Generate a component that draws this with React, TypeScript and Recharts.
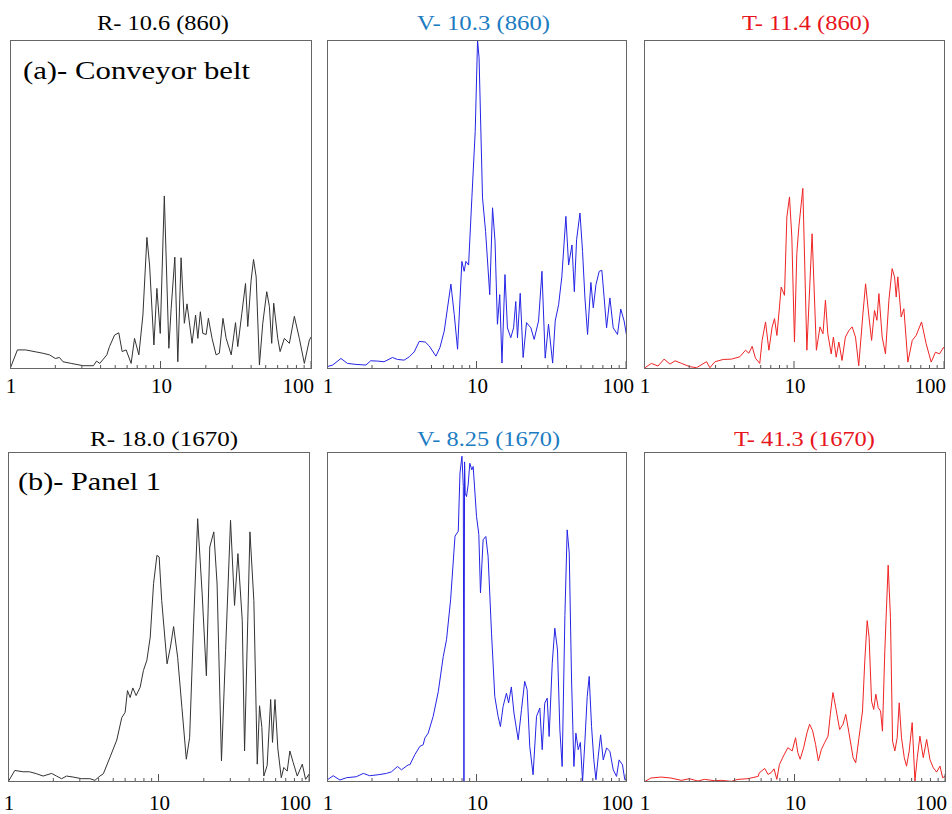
import React from 'react';
import { LineChart, Line, XAxis, YAxis } from 'recharts';

const SERIF = "'Liberation Serif', 'Times New Roman', Times, serif";

// log axis: minor ticks every unit, labels only on decades
const X_TICKS = [1, 2, 3, 4, 5, 6, 7, 8, 9, 10, 20, 30, 40, 50, 60, 70, 80, 90, 100];
const X_LABELS = [1, 10, 100];
const X_DOMAIN = [1, 101.5];

type Pt = [number, number];

// (a) conveyor belt -- relative amplitude (0-100) vs frequency
const convR: Pt[] = [
  [1, 0], [1.12, 5.8], [1.27, 5.8], [1.65, 4.8], [1.83, 4.3], [2.0, 3.2], [2.13, 3.5], [2.25, 2.2],
  [2.55, 1.7], [3.06, 1.0], [3.58, 1.0], [3.76, 2.4], [3.95, 1.7], [4.4, 4.3], [4.58, 6.8], [4.95, 10.3],
  [5.28, 11], [5.56, 5.3], [5.91, 5.8], [6.38, 1.7], [6.72, 9.3], [7.18, 4.3], [7.64, 16.4], [8.12, 40],
  [8.46, 31.6], [9.04, 7.3], [9.46, 24.5], [9.96, 10.8], [10.6, 52.6], [11.36, 6.3], [11.77, 18.4],
  [12.45, 34], [13.03, 2.2], [13.7, 33.8], [14.4, 13.9], [15.0, 19.8], [16.2, 7.8], [17.1, 16.4],
  [17.7, 9.3], [18.4, 17.4], [19.1, 10.8], [20.1, 10.5], [20.8, 15.4], [22.0, 9.3], [23.4, 4.3],
  [24.6, 4.8], [26.0, 15.4], [27.3, 9.3], [29.5, 4.3], [31.5, 14.1], [32.6, 6.8], [34.7, 16.9],
  [36.7, 26], [38.0, 12.9], [40.0, 27], [41.5, 33.3], [43.2, 28], [45.4, 1.2], [47.8, 13.9],
  [50.8, 23.5], [52.9, 19], [54.8, 7.8], [56.5, 20], [60.1, 9.3], [62.3, 5.3], [66.5, 9.3],
  [71.8, 7.8], [77.5, 16], [83.6, 9.3], [90.3, 1.7], [97.5, 8.8], [101, 10],
];

const convV: Pt[] = [
  [1, 0.7], [1.09, 1.2], [1.24, 3.2], [1.37, 1.7], [1.56, 1.4], [1.82, 1.2], [1.96, 2.5], [2.18, 2.4],
  [2.41, 2.2], [2.74, 3.5], [2.96, 2.9], [3.28, 2.7], [3.55, 3.7], [3.83, 5.2], [4.14, 8.4], [4.54, 8.2],
  [4.83, 7.0], [5.35, 3.9], [5.69, 6.5], [6.08, 11.5], [6.74, 25.8], [7.1, 16.5], [7.47, 6], [7.98, 32.7],
  [8.27, 29.7], [8.49, 32.7], [8.85, 31.6], [9.31, 52], [9.8, 72.2], [10.16, 100], [10.4, 94.6],
  [10.97, 52], [11.5, 41.8], [12.26, 22.6], [12.8, 49], [13.3, 38.8], [13.8, 13.6], [14.3, 22.6],
  [14.8, 1.8], [15.5, 28.7], [16.1, 12.5], [16.95, 9.5], [17.7, 12.5], [18.3, 20.5], [18.8, 9.5],
  [19.6, 23], [20.5, 3.5], [21.6, 14.1], [23.1, 12.5], [24.3, 9], [26.0, 14.6], [27.4, 29.7],
  [28.8, 3.3], [30.3, 13.6], [32.3, 1.8], [33.6, 14.6], [35.4, 19.5], [37.2, 28], [39.6, 46.4],
  [41.3, 31.6], [43.5, 37.7], [45.1, 23.5], [46.7, 39.3], [49.2, 47.4], [51.2, 35.7], [53.1, 21.6],
  [55.3, 10.5], [58.2, 26.3], [60.4, 18.6], [62.9, 25.6], [66.2, 29.7], [68.9, 30], [71.4, 21.6],
  [74.1, 12.5], [78.0, 21.6], [82.1, 12.5], [87.7, 10.5], [92.2, 18.2], [97.1, 14.6], [101, 10],
];

const convT: Pt[] = [
  [1, 0.2], [1.12, 1.7], [1.24, 0.9], [1.36, 3], [1.49, 1.5], [1.61, 2.5], [1.78, 1.7], [2.02, 0.7],
  [2.24, 0.4], [2.61, 2.2], [2.75, 0.4], [2.97, 2.2], [3.37, 2.9], [3.83, 3], [4.35, 3.7], [4.75, 5.7],
  [5.0, 4.8], [5.26, 6.9], [5.53, 3.3], [5.91, 1.7], [6.13, 8.7], [6.46, 14.3], [6.8, 5.7], [7.15, 12.8],
  [7.41, 15.3], [7.69, 10.2], [8.0, 18.8], [8.21, 24.9], [8.64, 22.4], [8.96, 46.2], [9.33, 52.3],
  [9.67, 40.1], [10.07, 8.2], [10.44, 35.1], [10.77, 43.2], [11.45, 54.9], [12.18, 5.7], [13.2, 41.1],
  [14.1, 5.7], [14.9, 12.8], [15.6, 10.7], [16.2, 20.9], [16.8, 10.7], [17.7, 4.6], [18.3, 9.7],
  [19.1, 3.6], [19.9, 8.2], [20.9, 2.6], [22.0, 9.7], [23.2, 11.7], [24.4, 12.8], [25.7, 9.7],
  [27.0, 1], [28.8, 16.8], [30.0, 25.9], [31.6, 15.8], [32.9, 8.7], [34.4, 17.8], [35.7, 14.8],
  [36.8, 22.9], [38.7, 9.7], [40.7, 4.6], [42.9, 20.9], [45.1, 30.5], [46.8, 28], [48, 21.9],
  [49.2, 28], [51.8, 15.8], [54, 18.3], [57.4, 2.1], [61.4, 8.7], [65.2, 10.2], [70.8, 14.3],
  [76.0, 7.7], [82.1, 2.1], [87.7, 5.1], [93.3, 4.6], [99.3, 6.6], [101, 6],
];

// (b) panel 1
const panelR: Pt[] = [
  [1, 0], [1.11, 3.5], [1.26, 3.1], [1.39, 3.1], [1.55, 2.5], [1.71, 1.8], [1.95, 2.6], [2.1, 1.8],
  [2.27, 1], [2.45, 1.8], [2.71, 1.5], [3.08, 1], [3.5, 1.0], [3.78, 0.5], [4.08, 1.8], [4.3, 2.5],
  [4.77, 7.6], [5.28, 12.7], [5.7, 19.5], [6.0, 21.1], [6.22, 27.7], [6.48, 25.6], [6.75, 28.5],
  [7.1, 26.2], [7.55, 28.7], [7.94, 33.8], [8.37, 36.9], [8.81, 43.9], [9.27, 60.1], [9.76, 68.7],
  [10.1, 68.2], [10.5, 55], [11.4, 35.8], [12.0, 40.9], [12.6, 47.1], [13.4, 37.8], [14.3, 22.6],
  [15.3, 6.9], [16.1, 13.5], [17.1, 47.9], [18.2, 79.8], [19.5, 57], [20.8, 32.2], [21.9, 71.2],
  [23.3, 75.8], [24.5, 60], [26.2, 6.4], [27.9, 39.8], [30.1, 79.3], [32, 53.5], [33.7, 69.2],
  [36, 49], [37.3, 9.4], [40.5, 75.8], [43, 55], [45.3, 5.4], [46.9, 23.1], [48.6, 16.5], [50.1, 1.8],
  [52.7, 5], [55.6, 25], [57.2, 12], [59.4, 25], [62.1, 10], [65.4, 1.3], [68, 4.4], [71.6, 3.3],
  [74.6, 9.4], [78.5, 5.9], [83.5, 1.8], [90.2, 5.4], [94.9, 0.8], [99.8, 2.3], [101, 1.5],
];

const panelV: Pt[] = [
  [1, 0.6], [1.1, 1.9], [1.22, 0.6], [1.35, 1.3], [1.57, 1.6], [1.75, 2.6], [1.93, 1.9], [2.2, 2.2],
  [2.5, 2.6], [2.7, 3.1], [2.96, 4.7], [3.15, 3.7], [3.49, 5.2], [3.58, 5.2], [3.87, 8.3], [4.18, 10.8],
  [4.4, 11.3], [4.51, 13.3], [4.75, 14.8], [5.13, 19.9], [5.55, 27.4], [5.99, 38], [6.3, 43.1],
  [6.71, 55.2], [7.18, 74.5], [7.55, 76], [7.75, 93.6], [7.99, 98.7], [8.16, 89.6], [8.24, 0.2],
  [8.32, 97], [8.4, 87.5], [8.57, 86.5], [8.79, 90], [9.02, 96.6], [9.3, 94.6], [9.5, 95.6],
  [10.0, 80.5], [10.36, 75], [10.63, 57.3], [11.07, 73.4], [11.54, 74.4], [11.95, 68.4], [12.6, 45.1],
  [13.25, 25.9], [13.94, 19.9], [14.45, 16.8], [15.06, 22.9], [15.85, 26.9], [16.4, 24], [17.1, 28.8],
  [17.8, 20.9], [19.0, 12.8], [20.0, 22], [21.0, 30.5], [21.8, 28], [22.7, 10.8], [23.9, 2.2],
  [25.2, 19.9], [26.5, 22.4], [27.5, 9.8], [28.6, 23.9], [29.7, 25.4], [30.6, 13.8], [32.1, 36],
  [33.4, 46.6], [34.8, 40], [36.1, 15.8], [37.4, 4.7], [39, 50.4], [40.4, 76.4], [41.7, 69.4],
  [43.2, 31.2], [44.8, 4.7], [46.2, 14.8], [47.9, 9.8], [49.5, 12], [51.2, 0.2], [53, 11.8], [55, 25.9],
  [56.7, 32], [58.8, 16.8], [60.9, 6.7], [62.9, 0.7], [65.2, 7.8], [67.6, 14.3], [70.4, 6.7],
  [74.1, 10.3], [78, 9.3], [82.1, 3.7], [86.4, 1.7], [89.9, 6.7], [94.7, 5.2], [98.1, 0.7], [101, 1],
];

const panelT: Pt[] = [
  [1, 0], [1.11, 1.2], [1.3, 1.5], [1.51, 1.2], [1.77, 0.5], [2.0, 1], [2.28, 0.3], [2.52, 0.8],
  [2.94, 0.4], [3.26, 0.5], [3.8, 0.2], [4.21, 0.8], [4.91, 1], [5.73, 1.7], [5.84, 2.8], [6.34, 4.1],
  [6.67, 2.3], [6.98, 2.8], [7.31, 4], [7.63, 0.8], [7.94, 5.3], [8.45, 7.9], [9.03, 10.4], [9.65, 9.4],
  [10.16, 13.4], [10.52, 8.9], [10.9, 6.9], [11.5, 10.4], [12.1, 14.9], [12.6, 17.5], [13.2, 15.5],
  [13.8, 11.4], [14.4, 6.4], [15.1, 9.9], [15.85, 11.9], [16.7, 13.9], [17.3, 20.5], [18.0, 27.1],
  [18.8, 22.5], [19.95, 15.9], [21.0, 17.5], [21.9, 20.5], [23.0, 14.9], [24.5, 7.4], [25.5, 5.8],
  [26.9, 13.9], [28.3, 21.5], [29.3, 36.7], [30.4, 48.9], [31.3, 43.8], [32.5, 24.5], [33.6, 22],
  [34.7, 26.6], [36, 22.5], [37.3, 21.5], [38.4, 15.4], [39.8, 39.7], [41.9, 65.7], [43.4, 49.9],
  [44.8, 12.4], [46.4, 9.4], [48.1, 13.4], [49.6, 24], [51.4, 13.4], [53.6, 7.4], [55.5, 4.8],
  [57.8, 9.4], [60.5, 18], [63.1, 0.3], [65.4, 7.4], [68.1, 13.9], [71.7, 7.4], [75.5, 12.9],
  [79.4, 6.8], [83.6, 4.3], [87.9, 3], [92.6, 4.8], [96.4, 1.3], [101, 1.8],
];

const BLACK_LINE = '#333333';
const BLUE_LINE = '#2424e6';
const RED_LINE = '#f02424';
const BLUE_TEXT = '#1c7cc2';
const RED_TEXT = '#e8141c';

// side room so the "1" and "100" labels are not clipped by the chart svg
const PAD = 20;

const toRows = (pts: Pt[]) => pts.map(([x, y]) => ({ x, y }));

const AxisTick = ({ x, y, payload, labelDy, endDx }: any) => {
  const v = payload.value;
  const major = v === 10 || v === 100;
  return (
    <g>
      {v !== 1 && (
        <line x1={x} x2={x} y1={y} y2={y - (major ? 8 : 4)} stroke="#555" strokeWidth={1} />
      )}
      {X_LABELS.includes(v) && (
        <text
          x={v === 100 ? x + endDx : x + 1}
          y={y + labelDy}
          textAnchor={v === 100 ? 'end' : 'middle'}
          fontFamily={SERIF}
          fontSize={21}
          fill="#000"
        >
          {v}
        </text>
      )}
    </g>
  );
};

type Box = { left: number; top: number; width: number; height: number };

const Panel: React.FC<{ data: Pt[]; color: string; box: Box; labelDy: number; endDx: number }> = ({
  data, color, box, labelDy, endDx,
}) => (
  <div
    style={{
      position: 'absolute', left: box.left - PAD, top: box.top,
      width: box.width + PAD * 2, height: box.height + 40,
    }}
  >
    <LineChart
      width={box.width + PAD * 2}
      height={box.height + 40}
      data={toRows(data)}
      margin={{ top: 0, right: PAD, bottom: 0, left: PAD }}
    >
      <XAxis
        dataKey="x"
        type="number"
        scale="log"
        domain={X_DOMAIN}
        allowDataOverflow
        ticks={X_TICKS}
        interval={0}
        axisLine={false}
        tickLine={false}
        tickSize={0}
        tickMargin={0}
        height={40}
        tick={(p: any) => <AxisTick {...p} labelDy={labelDy} endDx={endDx} />}
      />
      <YAxis type="number" domain={[0, 100]} hide allowDataOverflow />
      <Line
        dataKey="y"
        type="linear"
        stroke={color}
        strokeWidth={1}
        dot={false}
        isAnimationActive={false}
      />
    </LineChart>
    <div
      style={{
        position: 'absolute', left: PAD, top: 0, width: box.width, height: box.height,
        border: '1px solid #666', boxSizing: 'border-box', pointerEvents: 'none',
      }}
    />
  </div>
);

const TITLES = [
  { text: 'R- 10.6 (860)', x: 97, y: 30, w: 132, color: '#000' },
  { text: 'V- 10.3 (860)', x: 417, y: 30, w: 133, color: BLUE_TEXT },
  { text: 'T- 11.4 (860)', x: 742, y: 30, w: 128, color: RED_TEXT },
  { text: 'R- 18.0 (1670)', x: 90, y: 446, w: 148, color: '#000' },
  { text: 'V- 8.25 (1670)', x: 417, y: 446, w: 143, color: BLUE_TEXT },
  { text: 'T- 41.3 (1670)', x: 734, y: 446, w: 141, color: RED_TEXT },
];

const LABELS = [
  { text: '(a)- Conveyor belt', x: 23, y: 79, w: 227 },
  { text: '(b)- Panel 1', x: 18, y: 490, w: 143 },
];

export default function App() {
  return (
    <div style={{ position: 'absolute', left: 0, top: 0, width: 952, height: 814, background: '#fff' }}>
      <Panel data={convR} color={BLACK_LINE} box={{ left: 10, top: 40, width: 302, height: 329 }} labelDy={24} endDx={3} />
      <Panel data={convV} color={BLUE_LINE} box={{ left: 327, top: 40, width: 300, height: 329 }} labelDy={24} endDx={8} />
      <Panel data={convT} color={RED_LINE} box={{ left: 644, top: 40, width: 301, height: 329 }} labelDy={24} endDx={2} />
      <Panel data={panelR} color={BLACK_LINE} box={{ left: 8, top: 452, width: 302, height: 330 }} labelDy={28} endDx={2} />
      <Panel data={panelV} color={BLUE_LINE} box={{ left: 327, top: 452, width: 300, height: 330 }} labelDy={28} endDx={7} />
      <Panel data={panelT} color={RED_LINE} box={{ left: 644, top: 452, width: 302, height: 330 }} labelDy={28} endDx={2} />
      <svg
        width={952}
        height={814}
        style={{ position: 'absolute', left: 0, top: 0, pointerEvents: 'none' }}
      >
        {TITLES.map((t) => (
          <text
            key={t.text}
            x={t.x}
            y={t.y}
            fill={t.color}
            fontFamily={SERIF}
            fontSize={20}
            textLength={t.w}
            lengthAdjust="spacingAndGlyphs"
          >
            {t.text}
          </text>
        ))}
        {LABELS.map((t) => (
          <text
            key={t.text}
            x={t.x}
            y={t.y}
            fill="#000"
            fontFamily={SERIF}
            fontSize={26}
            textLength={t.w}
            lengthAdjust="spacingAndGlyphs"
          >
            {t.text}
          </text>
        ))}
      </svg>
    </div>
  );
}
